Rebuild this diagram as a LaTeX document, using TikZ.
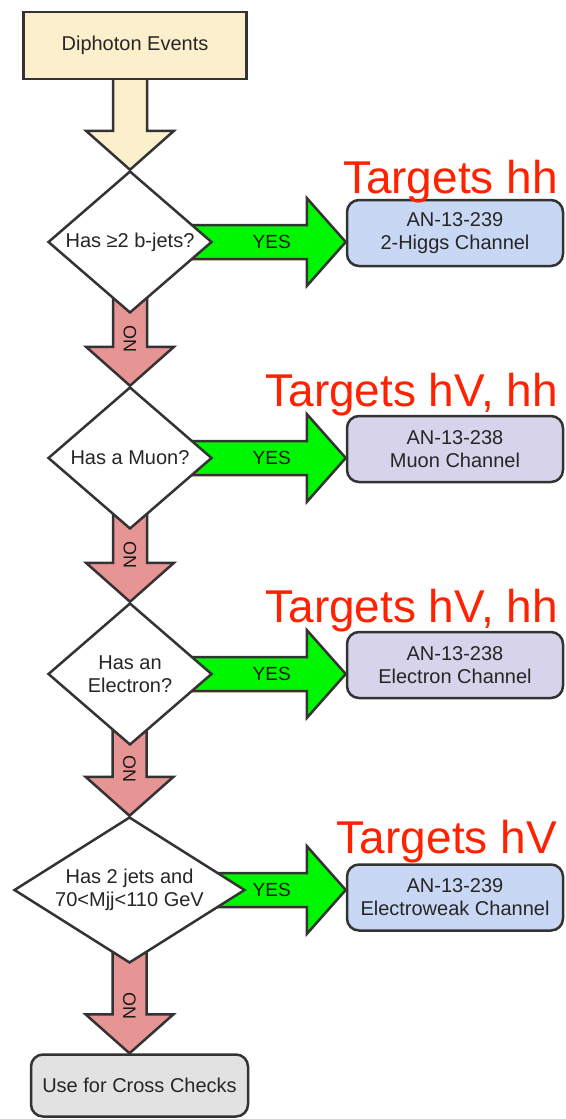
\documentclass[tikz,border=0pt]{standalone}
\usepackage{fontspec}
\setmainfont{Liberation Sans}
\usetikzlibrary{shapes.geometric,backgrounds,calc}
\definecolor{edgec}{HTML}{333333}
\definecolor{creamc}{HTML}{FCEFCC}
\definecolor{pinkc}{HTML}{E69494}
\definecolor{greenc}{HTML}{00F500}
\definecolor{bluec}{HTML}{C8D7F3}
\definecolor{lavc}{HTML}{D6D3EA}
\definecolor{grayc}{HTML}{E2E2E2}
\definecolor{redc}{HTML}{FF2200}
\pgfdeclarelayer{bottomlayer}
\pgfsetlayers{bottomlayer,background,main}
\newcommand\arrdown[4]{%
  \path[blk, fill=#3] let \p1=(#1), \p2=(#2) in
    (\x2-17pt,\y1) -- (\x2-17pt,\y2+39pt) -- (\x2-44pt,\y2+39pt) -- (\x2,\y2)
    -- (\x2+44pt,\y2+39pt) -- (\x2+17pt,\y2+39pt) -- (\x2+17pt,\y1) -- cycle
    \ifx&#4&\else node[nolbl] (#4) at (\x2,\y2+47pt) {NO}\fi;}
\newcommand\arrright[4]{%
  \path[blk, fill=#3] let \p1=(#1), \p2=(#2) in
    (\x1,\y2+17pt) -- (\x2-39pt,\y2+17pt) -- (\x2-39pt,\y2+44pt) -- (\x2,\y2)
    -- (\x2-39pt,\y2-44pt) -- (\x2-39pt,\y2-17pt) -- (\x1,\y2-17pt) -- cycle
    node[yeslbl] (#4) at (\x2-74pt,\y2) {YES};}
\begin{document}
\begin{tikzpicture}[x=1pt,y=-1pt,
  flow/.style={draw=edgec, line width=2.5pt, font=\fontsize{20}{23}\selectfont, align=center, inner sep=0pt, text=black!85},
  startbox/.style={flow, fill=creamc, minimum width=223pt, minimum height=67pt},
  chan/.style={flow, rounded corners=12pt, minimum width=216pt, minimum height=66pt},
  dec/.style={flow, diamond, fill=white, aspect=1.2, minimum width=164pt, minimum height=142pt},
  blk/.style={draw=edgec, line width=2.5pt, line join=miter},
  yeslbl/.style={font=\fontsize{19}{22}\selectfont, inner sep=0pt, text=black!90},
  nolbl/.style={font=\fontsize{18}{20}\selectfont, inner sep=0pt, rotate=90, text=black!90},
  tgt/.style={font=\fontsize{46}{50}\selectfont, text=redc, inner sep=0pt, anchor=base east}]
\useasboundingbox (0,0) rectangle (565,1119);
\begin{pgfonlayer}{bottomlayer}
\fill[white] (0,0) rectangle (565,1119);
\end{pgfonlayer}
% nodes
\node[startbox] (top) at (135,45.5) {Diphoton Events};
\node[dec] (d1) at (130,242) {Has ≥2 b-jets?};
\node[dec] (d2) at (130,458) {Has a Muon?};
\node[dec] (d3) at (130,674) {Has an\\Electron?};
\node[dec, aspect=1.6, minimum width=231pt, minimum height=146pt] (d4) at (129.5,890) {Has 2 jets and\\70<Mjj<110 GeV};
\node[chan, fill=bluec] (b1) at (455,233) {AN-13-239\\2-Higgs Channel};
\node[chan, fill=lavc] (b2) at (455,449) {AN-13-238\\Muon Channel};
\node[chan, fill=lavc] (b3) at (455,665) {AN-13-238\\Electron Channel};
\node[chan, fill=bluec] (b4) at (455,897.5) {AN-13-239\\Electroweak Channel};
\node[chan, fill=grayc, minimum width=217pt, minimum height=62pt] (cc) at (139.5,1085.5) {Use for Cross Checks};
\node[tgt] (t1) at (558,193) {Targets hh};
\node[tgt] (t2) at (558,406) {Targets hV, hh};
\node[tgt] (t3) at (558,622) {Targets hV, hh};
\node[tgt] (t4) at (557,853) {Targets hV};
% connectors
\begin{pgfonlayer}{background}
\arrdown{top.center}{d1.north}{creamc}{}
\arrdown{d1.center}{d2.north}{pinkc}{n1}
\arrdown{d2.center}{d3.north}{pinkc}{n2}
\arrdown{d3.center}{d4.north}{pinkc}{n3}
\arrdown{d4.center}{d4.center |- cc.north}{pinkc}{n4}
\arrright{d1.center}{d1.center -| b1.west}{greenc}{y1}
\arrright{d2.center}{d2.center -| b2.west}{greenc}{y2}
\arrright{d3.center}{d3.center -| b3.west}{greenc}{y3}
\arrright{d4.center}{d4.center -| b4.west}{greenc}{y4}
\end{pgfonlayer}
\end{tikzpicture}
\end{document}
